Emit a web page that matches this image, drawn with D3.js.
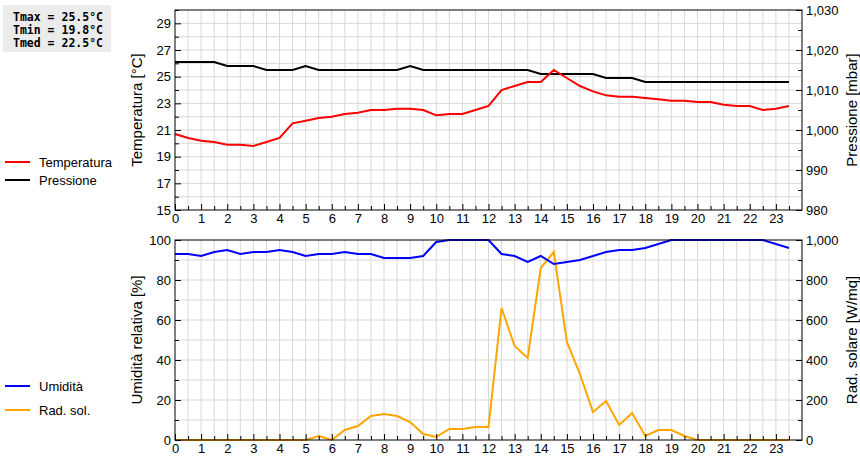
<!DOCTYPE html><html><head><meta charset="utf-8">
<script src="https://cdn.jsdelivr.net/npm/d3@7"></script>
<style>body{margin:0;background:#fff}svg{font-family:"Liberation Sans",Arial,sans-serif}</style></head><body>
<svg id="c" width="860" height="460"></svg>
<script>
const hours = d3.range(48).map(i=>i/2);
const temperatura = [20.7,20.4,20.2,20.1,19.9,19.9,19.8,20.1,20.4,21.5,21.7,21.9,22.0,22.2,22.3,22.5,22.5,22.6,22.6,22.5,22.1,22.2,22.2,22.5,22.8,24.0,24.3,24.6,24.6,25.5,24.9,24.3,23.9,23.6,23.5,23.5,23.4,23.3,23.2,23.2,23.1,23.1,22.9,22.8,22.8,22.5,22.6,22.8];
const pressione = [1017,1017,1017,1017,1016,1016,1016,1015,1015,1015,1016,1015,1015,1015,1015,1015,1015,1015,1016,1015,1015,1015,1015,1015,1015,1015,1015,1015,1014,1014,1014,1014,1014,1013,1013,1013,1012,1012,1012,1012,1012,1012,1012,1012,1012,1012,1012,1012];
const umidita = [93,93,92,94,95,93,94,94,95,94,92,93,93,94,93,93,91,91,91,92,99,100,100,100,100,93,92,89,92,88,89,90,92,94,95,95,96,98,100,100,100,100,100,100,100,100,98,96];
const radSol = [0,0,0,0,0,0,0,0,0,0,0,20,0,50,70,120,130,120,90,30,15,55,55,65,65,660,470,410,860,940,490,330,140,195,75,135,20,50,50,20,0,0,0,0,0,0,0,0];
const statsLines = ["Tmax = 25.5°C","Tmin = 19.8°C","Tmed = 22.5°C"];
const hourTicks = d3.range(24);

const svg = d3.select("#c");
const x = d3.scaleLinear().domain([0,24]).range([175,802]);

function panel(y0,y1,lDom,rDom,lMajor,lMinor,rMajor,rMinor,gridStep,lTitle,rTitle,series){
  const yl = d3.scaleLinear().domain(lDom).range([y1,y0]);
  const yr = d3.scaleLinear().domain(rDom).range([y1,y0]);
  const g = svg.append("g");
  // grid
  g.selectAll(".vg").data(d3.range(1,48).map(i=>i/2)).join("line")
    .attr("x1",d=>x(d)).attr("x2",d=>x(d)).attr("y1",y0).attr("y2",y1).attr("stroke","#d8d8d8");
  g.selectAll(".hg").data(d3.range(lDom[0]+gridStep,lDom[1],gridStep)).join("line")
    .attr("x1",175).attr("x2",802).attr("y1",d=>yl(d)).attr("y2",d=>yl(d)).attr("stroke","#d8d8d8");
  // series
  series.forEach(s=>{
    const sc = s.right?yr:yl;
    g.append("path").datum(s.data).attr("fill","none").attr("stroke",s.color).attr("stroke-width",2)
      .attr("d",d3.line().x((d,i)=>x(hours[i])).y(d=>sc(d)));
  });
  g.append("rect").attr("x",175).attr("y",y0).attr("width",627).attr("height",y1-y0).attr("fill","none").attr("stroke","#000");
  // x axis
  const xa = g.append("g").attr("transform",`translate(0,${y1})`)
    .call(d3.axisBottom(x).tickValues(hourTicks).tickSize(-6).tickPadding(4).tickFormat(d3.format("d")));
  g.append("g").attr("transform",`translate(0,${y1})`)
    .call(d3.axisBottom(x).tickValues(d3.range(0.5,24,1)).tickSize(-4).tickFormat(""));
  // left
  g.append("g").attr("transform","translate(175,0)").call(d3.axisLeft(yl).tickValues(lMajor).tickSize(-6).tickPadding(4));
  g.append("g").attr("transform","translate(175,0)").call(d3.axisLeft(yl).tickValues(lMinor).tickSize(-4).tickFormat(""));
  g.append("g").attr("transform","translate(802,0)").call(d3.axisRight(yr).tickValues(rMajor).tickSize(-6).tickPadding(4));
  g.append("g").attr("transform","translate(802,0)").call(d3.axisRight(yr).tickValues(rMinor).tickSize(-4).tickFormat(""));
  g.selectAll(".domain").remove();
  g.selectAll(".tick text").attr("font-size",13).attr("font-family","Liberation Sans, Arial, sans-serif").attr("fill","#000");
  g.selectAll(".tick line").attr("stroke","#000");
  const cy=(y0+y1)/2;
  g.append("text").attr("transform",`translate(142,${cy}) rotate(-90)`).attr("text-anchor","middle").attr("font-size",15).text(lTitle);
  g.append("text").attr("transform",`translate(857,${cy}) rotate(-90)`).attr("text-anchor","middle").attr("font-size",15).text(rTitle);
}
panel(10,210,[15,30],[980,1030],d3.range(15,30,2),d3.range(16,31,2),d3.range(980,1031,10),d3.range(985,1030,10),1,"Temperatura [°C]","Pressione [mbar]",
  [{data:pressione,color:"#000",right:true},{data:temperatura,color:"#f00"}]);
panel(240,440,[0,100],[0,1000],d3.range(0,101,20),d3.range(10,100,20),d3.range(0,1001,200),d3.range(100,1000,200),10,"Umidità relativa [%]","Rad. solare [W/mq]",
  [{data:radSol,color:"#ffa500",right:true},{data:umidita,color:"#00f"}]);

// legends
const legends=[{t:"Temperatura",c:"#f00",y:162},{t:"Pressione",c:"#000",y:180},{t:"Umidità",c:"#00f",y:386},{t:"Rad. sol.",c:"#ffa500",y:410}];
legends.forEach(l=>{
  svg.append("line").attr("x1",5).attr("x2",30).attr("y1",l.y).attr("y2",l.y).attr("stroke",l.c).attr("stroke-width",2);
  svg.append("text").attr("x",39).attr("y",l.y+4.5).attr("font-size",13).text(l.t);
});
// stats box
svg.append("rect").attr("x",3).attr("y",5).attr("width",108).attr("height",47).attr("fill","#ececec");
statsLines.forEach((s,i)=>svg.append("text").attr("x",13).attr("y",21+i*13).attr("font-size",11.5).attr("font-weight","bold")
  .attr("font-family","DejaVu Sans Mono, monospace").text(s));
</script></body></html>
